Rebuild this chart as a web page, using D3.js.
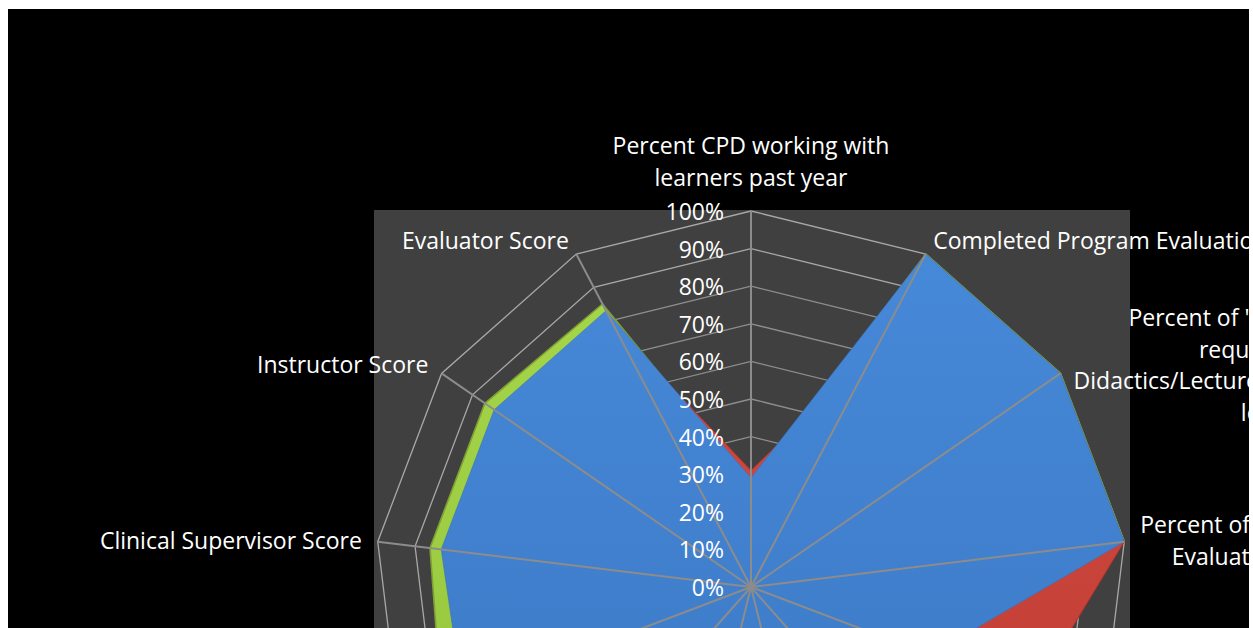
<!DOCTYPE html>
<html><head><meta charset="utf-8">
<script src="https://cdn.jsdelivr.net/npm/d3@7"></script>
<style>html,body{margin:0;padding:0;background:#fff;} svg{display:block;}</style>
</head><body><svg id="c" width="1253" height="628"></svg>
<script>
// ---------- data ----------
const categories = [
  "Percent CPD working with\nlearners past year",
  "Completed Program Evaluations",
  "Percent of \"Required\", and\nrequired CPD\nDidactics/Lectures attended over the\nlevels",
  "Percent of Timely\nEvaluations",
  "Percent of Teaching Sessions\nObserved",
  "Mentor Score",
  "Role Model Score",
  "Advisor Score",
  "Researcher Score",
  "Program Director Score",
  "Clinical Supervisor Score",
  "Instructor Score",
  "Evaluator Score"
];
const tickValues = [0, 10, 20, 30, 40, 50, 60, 70, 80, 90, 100];
const tickLabels = ["0%", "10%", "20%", "30%", "40%", "50%", "60%", "70%", "80%", "90%", "100%"];
const seriesNames = ["Series 3", "Series 2", "Series 1"];
const greenValues = [27, 100, 100, 100, 45, 58, 66, 72, 78, 88, 86, 86, 85];
const redValues   = [31, 72, 95, 100, 80, 55, 60, 65, 70, 76, 79, 80, 78];
const blueValues  = [29, 100, 100, 100, 51, 62, 70, 76, 80, 82, 83, 83, 83];

// ---------- layout ----------
const W = 1253, H = 628;
const cx = 751, cy = 587, R = 376;
const FONT = "'Open Sans', 'Noto Sans', sans-serif";
const FS = 23;

const svg = d3.select("#c");
const defs = svg.append("defs");
defs.append("clipPath").attr("id", "frame")
  .append("rect").attr("x", 8).attr("y", 9).attr("width", 1241).attr("height", 620);

const seriesStyles = [
  {name: seriesNames[0], values: greenValues, top: "#a6d64a", bottom: "#92c43a", edge: "#b8e060", line: "#7f9f35", lw: 1.6},
  {name: seriesNames[1], values: redValues,   top: "#d04a40", bottom: "#bf3b33", edge: "#e06a5e", line: "#a8332c", lw: 1},
  {name: seriesNames[2], values: blueValues,  top: "#4689d8", bottom: "#3b77c3", edge: "#64a3ee", line: "#3a70b5", lw: 0.6}
];

seriesStyles.forEach((s, k) => {
  const g = defs.append("linearGradient").attr("id", "grad" + k)
    .attr("x1", 0).attr("y1", 0).attr("x2", 0).attr("y2", 1);
  g.append("stop").attr("offset", "0%").attr("stop-color", s.top);
  g.append("stop").attr("offset", "100%").attr("stop-color", s.bottom);
});
defs.append("filter").attr("id", "blur").attr("x", "-10%").attr("y", "-10%").attr("width", "120%").attr("height", "120%")
  .append("feGaussianBlur").attr("stdDeviation", 1.6);

const root = svg.append("g").attr("clip-path", "url(#frame)");
root.append("rect").attr("x", 8).attr("y", 9).attr("width", 1241).attr("height", 620).attr("fill", "#000");
root.append("rect").attr("x", 374).attr("y", 210).attr("width", 756).attr("height", 420).attr("fill", "#404040");

const n = categories.length;
const step = 2 * Math.PI / n;
const r = d3.scaleLinear().domain([0, 100]).range([0, R]);
const ang = i => i * step;

const chart = root.append("g").attr("transform", `translate(${cx},${cy})`);

// gridline polygons
const gridLine = d3.lineRadial().angle((d, i) => ang(i)).radius(d => r(d)).curve(d3.curveLinearClosed);
chart.append("g").selectAll("path").data(tickValues.filter(v => v > 0)).join("path")
  .attr("d", v => gridLine(d3.range(n).map(() => v)))
  .attr("fill", "none").attr("stroke", v => v >= 90 ? "#a8a8a8" : "#8e8e8e").attr("stroke-width", 1.3);

// series
const area = d3.lineRadial().angle((d, i) => ang(i)).radius(d => r(d)).curve(d3.curveLinearClosed);
seriesStyles.forEach((s, k) => {
  const d = area(s.values);
  defs.append("clipPath").attr("id", "sc" + k).attr("transform", `translate(${cx},${cy})`)
    .append("path").attr("d", d);
  const sg = chart.append("g");
  sg.append("path").attr("d", d).attr("fill", `url(#grad${k})`)
    .attr("stroke", s.line).attr("stroke-width", s.lw).attr("stroke-linejoin", "round");
  sg.append("path").attr("d", d).attr("fill", "none").attr("stroke", s.edge)
    .attr("stroke-width", 9).attr("stroke-linejoin", "round").attr("opacity", 0.75)
    .attr("filter", "url(#blur)").attr("clip-path", `url(#sc${k})`);
});

// spokes
chart.append("g").selectAll("line").data(d3.range(n)).join("line")
  .attr("x1", 0).attr("y1", 0)
  .attr("x2", i => r(100) * Math.sin(ang(i)))
  .attr("y2", i => -r(100) * Math.cos(ang(i)))
  .attr("stroke", "#8c8c8c").attr("stroke-width", 2);
chart.append("circle").attr("r", 3).attr("fill", "#8c8c8c");

// tick labels
chart.append("g").selectAll("text").data(tickValues).join("text")
  .attr("x", -27).attr("y", v => -r(v))
  .attr("text-anchor", "end").attr("dominant-baseline", "central")
  .attr("font-family", FONT).attr("font-size", FS).attr("fill", "#fff")
  .text((v, i) => tickLabels[i]);

// category labels
const lineH = 31.6;
categories.forEach((cat, i) => {
  const th = ang(i), s = Math.sin(th), c = Math.cos(th);
  const ax = r(100) * s, ay = -r(100) * c;
  const lines = cat.split("\n");
  const g = chart.append("g");
  const texts = lines.map(l => g.append("text")
    .attr("font-family", FONT).attr("font-size", FS).attr("fill", "#fff")
    .attr("dominant-baseline", "central").attr("text-anchor", "middle").text(l));
  const widths = texts.map(t => t.node().getComputedTextLength());
  const bw = d3.max(widths);
  let xc, y0;
  if (Math.abs(s) < 0.1) {
    xc = ax;
    if (c > 0) y0 = ay - 34 - (lines.length - 1) * lineH;
    else y0 = ay + 34;
  } else {
    const yc = ay - 16 * c;
    y0 = yc - (lines.length - 1) * lineH / 2;
    xc = s > 0 ? ax + 16 * s + bw / 2 : ax + 16 * s - bw / 2;
  }
  texts.forEach((t, j) => t.attr("x", xc).attr("y", y0 + j * lineH));
});
</script>
</body></html>
